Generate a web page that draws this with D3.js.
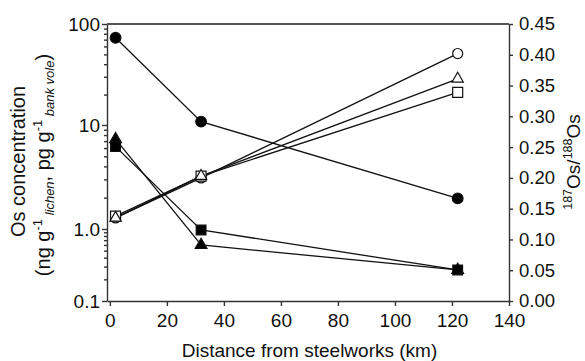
<!DOCTYPE html>
<html><head><meta charset="utf-8">
<script src="https://cdn.jsdelivr.net/npm/d3@7"></script>
<style>
body{margin:0;background:#fff}
svg{display:block}
text{font-family:"Liberation Sans",Arial,sans-serif;fill:#111}
</style>
</head><body><svg id="c" width="585" height="361"></svg>
<script>
// ---- data ----
const distances = [2, 32, 122];
const concCircle = [73, 10.8, 1.97];
const concTriangle = [7.3, 0.6, 0.27];
const concSquare = [6.2, 0.97, 0.27];
const ratioCircle = [0.135, 0.2, 0.402];
const ratioTriangle = [0.135, 0.203, 0.361];
const ratioSquare = [0.138, 0.203, 0.339];
const xTicks = [0, 20, 40, 60, 80, 100, 120, 140];
const leftTicks = [0.1, 1, 10, 100];
const leftTickLabels = ["0.1", "1.0", "10", "100"];
const rightTicks = [0, 0.05, 0.10, 0.15, 0.20, 0.25, 0.30, 0.35, 0.40, 0.45];
const xTitle = "Distance from steelworks (km)";

// ---- layout ----
const L = 107, R = 509, T = 24, B = 301;
const svg = d3.select("#c");
svg.append("rect").attr("width", 585).attr("height", 361).attr("fill", "#fff");

const x = d3.scaleLinear().domain([-1, 140]).range([L, R]);
// log axis, decades as drawn in the figure
const yL = d3.scaleLog().domain([0.1, 1, 10, 100]).range([B, 229, 125, T]);
const yR = d3.scaleLinear().domain([0, 0.45]).range([B, T]);

const axisColor = "#333";
const FS = 19;

// bottom axis
const gx = svg.append("g").attr("transform", `translate(0,${B})`)
  .call(d3.axisBottom(x).tickValues(xTicks).tickSize(5).tickPadding(8).tickSizeOuter(0).tickFormat(d3.format("d")));
// left axis major
const gl = svg.append("g").attr("transform", `translate(${L},0)`)
  .call(d3.axisLeft(yL).tickValues(leftTicks).tickSize(5).tickPadding(2).tickSizeOuter(0)
    .tickFormat((d, i) => leftTickLabels[i]));
// left minor ticks
const minor = [];
[0.1, 1, 10].forEach(dec => { for (let k = 2; k <= 9; k++) minor.push(dec * k); });
const glm = svg.append("g").attr("transform", `translate(${L},0)`)
  .call(d3.axisLeft(yL).tickValues(minor).tickSize(3).tickFormat("").tickSizeOuter(0));
glm.select(".domain").remove();
// right axis
const gr = svg.append("g").attr("transform", `translate(${R},0)`)
  .call(d3.axisRight(yR).tickValues(rightTicks).tickSize(4).tickPadding(6).tickSizeOuter(0).tickFormat(d3.format(".2f")));

[gx, gl, glm, gr].forEach(g => {
  g.selectAll("path,line").attr("stroke", axisColor).attr("stroke-width", 1.4);
  g.selectAll("text").attr("font-size", FS).attr("fill", "#111")
    .style("font-family", '"Liberation Sans", Arial, sans-serif');
});
gr.selectAll("text").attr("font-size", 18.5);
// top border
svg.append("line").attr("x1", L).attr("x2", R).attr("y1", T).attr("y2", T)
  .attr("stroke", "#555").attr("stroke-width", 1.8);

// ---- series ----
const line = (ys, sc) => d3.line().x((d, i) => x(distances[i])).y(d => sc(d))(ys);
const series = [
  {v: concCircle, sc: yL, shape: d3.symbolCircle, size: 90, fill: "#000"},
  {v: concTriangle, sc: yL, shape: d3.symbolTriangle, size: 60, fill: "#000"},
  {v: concSquare, sc: yL, shape: d3.symbolSquare, size: 95, fill: "#000"},
  {v: ratioCircle, sc: yR, shape: d3.symbolCircle, size: 80, fill: "#fff"},
  {v: ratioSquare, sc: yR, shape: d3.symbolSquare, size: 100, fill: "#fff"},
  {v: ratioTriangle, sc: yR, shape: d3.symbolTriangle, size: 55, fill: "#fff"}
];
series.forEach(s => {
  svg.append("path").attr("d", line(s.v, s.sc)).attr("fill", "none")
    .attr("stroke", "#111").attr("stroke-width", 1.3);
});
series.forEach(s => {
  svg.append("g").selectAll("path").data(s.v).join("path")
    .attr("transform", (d, i) => `translate(${x(distances[i])},${s.sc(d)})`)
    .attr("d", d3.symbol().type(s.shape).size(s.size))
    .attr("fill", s.fill).attr("stroke", "#111").attr("stroke-width", 1.2);
});

// ---- titles ----
svg.append("text").attr("x", 309.5).attr("y", 357).attr("text-anchor", "middle")
  .attr("font-size", FS).text(xTitle);

const t1 = svg.append("text").attr("transform", "translate(25,161.5) rotate(-90)")
  .attr("text-anchor", "middle").attr("font-size", 20).text("Os concentration");

const t2 = svg.append("text").attr("transform", "translate(50,165) rotate(-90)")
  .attr("text-anchor", "middle").attr("font-size", 20);
const parts = [
  {t: "(ng g", fs: 20, dy: 0},
  {t: "-1", fs: 13, dy: -8},
  {t: " lichen", fs: 13, dy: 12, it: true},
  {t: ", pg g", fs: 20, dy: -4},
  {t: "-1", fs: 13, dy: -8},
  {t: " bank vole", fs: 13, dy: 12, it: true},
  {t: ")", fs: 20, dy: -4}
];
parts.forEach(p => {
  t2.append("tspan").attr("font-size", p.fs).attr("dy", p.dy)
    .attr("font-style", p.it ? "italic" : null).text(p.t);
});

const t3 = svg.append("text").attr("transform", "translate(580,162) rotate(-90)")
  .attr("text-anchor", "middle").attr("font-size", 19);
[
  {t: "187", fs: 12.5, dy: -8},
  {t: "Os/", fs: 19, dy: 8},
  {t: "188", fs: 12.5, dy: -8},
  {t: "Os", fs: 19, dy: 8}
].forEach(p => t3.append("tspan").attr("font-size", p.fs).attr("dy", p.dy).text(p.t));
</script>
</body></html>
